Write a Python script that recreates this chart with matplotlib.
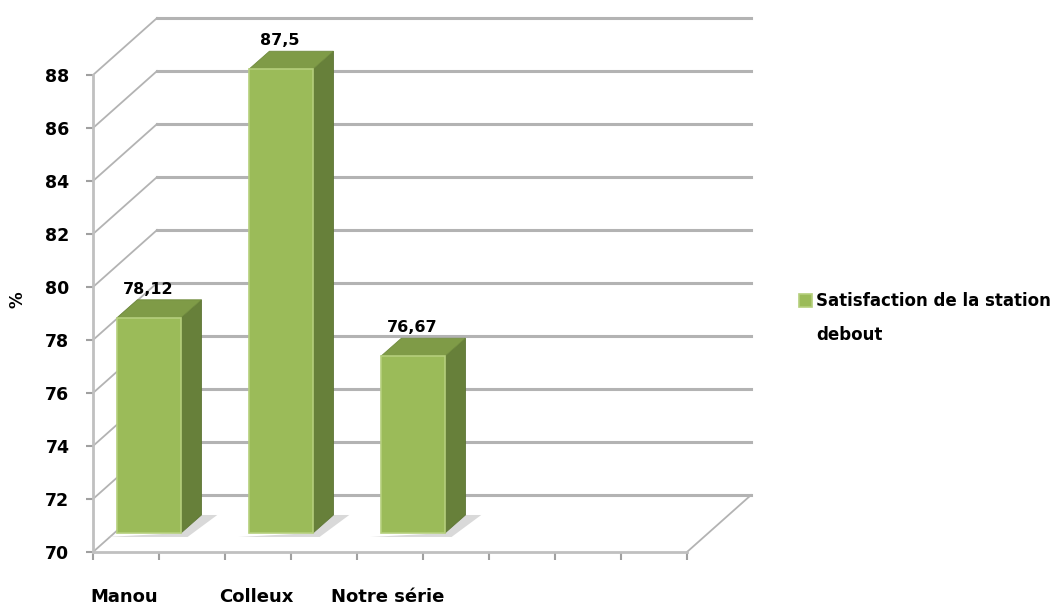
import matplotlib.pyplot as plt
from matplotlib.patches import Polygon, Rectangle
from matplotlib.container import BarContainer
from matplotlib.legend_handler import HandlerPatch, update_from_first_child

categories = ['Manou', 'Colleux', 'Notre série']
values = [78.12, 87.5, 76.67]
value_labels = ['78,12', '87,5', '76,67']
series_name = 'Satisfaction de la station\ndebout'
y_ticks = [70, 72, 74, 76, 78, 80, 82, 84, 86, 88]

front = '#9bbb59'
side = '#67803a'
top = '#7f9b47'
grid = '#b3b3b3'

plt.rcParams['font.family'] = 'DejaVu Sans'
plt.rcParams['font.weight'] = 'bold'

fig = plt.figure(figsize=(10.55, 6.1), dpi=100)
ax = fig.add_axes([93 / 1055, 58 / 610, 594 / 1055, 477 / 610])
x0, x1 = -0.265, 4.235
ymin, ymax = 70, 88
ax.set_xlim(x0, x1)
ax.set_ylim(ymin, ymax)

# depth of the box (back wall offset) and of the bars
dx, dy = 0.485, 2.15
bx, by = 0.159, 0.717
bw = 0.485

# back wall gridlines + left wall diagonals
for v in y_ticks:
    ax.plot([x0 + dx, x1 + dx], [v + dy, v + dy], color=grid, lw=2.2, clip_on=False, zorder=1)
    ax.plot([x0, x0 + dx], [v, v + dy], color=grid, lw=1.3, clip_on=False, zorder=1)
# floor right edge
ax.plot([x1, x1 + dx], [ymin, ymin + dy], color=grid, lw=1.3, clip_on=False, zorder=1)

# bars with fake 3D
for i, v in enumerate(values):
    xl = i + bx - bw / 2
    xr = i + bx + bw / 2
    b = ymin + by
    t = v + by
    ddx, ddy = 0.155, 0.68
    shadow = Polygon([(xl - 0.08, b - 0.15), (xr + 0.05, b - 0.15), (xr + ddx + 0.12, b + ddy),
                      (xr + ddx, b + ddy), (xr, b)], closed=True, color='#d9d9d9', lw=0,
                     clip_on=False, zorder=2)
    ax.add_patch(shadow)
    ax.add_patch(Polygon([(xr, b), (xr + ddx, b + ddy), (xr + ddx, t + ddy), (xr, t)],
                         closed=True, facecolor=side, edgecolor='#5c7433', lw=0.6,
                         clip_on=False, zorder=3))
    ax.add_patch(Polygon([(xl, t), (xr, t), (xr + ddx, t + ddy), (xl + ddx, t + ddy)],
                         closed=True, facecolor=top, edgecolor='#6f8a3d', lw=0.6,
                         clip_on=False, zorder=3))
    ax.text(i + 0.15, t + ddy + 0.12, value_labels[i], ha='center', va='bottom',
            fontsize=11.5, fontweight='bold', zorder=5, clip_on=False)

ax.bar([i + bx for i in range(len(values))], [v - ymin for v in values], bottom=ymin + by,
       width=bw, color=front, edgecolor='#b5cf7c', linewidth=1.2, zorder=4, clip_on=False,
       label=series_name)

for s in ['top', 'right']:
    ax.spines[s].set_visible(False)
for s in ['left', 'bottom']:
    ax.spines[s].set_color('#c0c0c0')
    ax.spines[s].set_linewidth(2)

ax.set_yticks(y_ticks)
ax.tick_params(axis='y', length=5, width=1.5, color='#a0a0a0', labelsize=12.5, pad=12)
ax.set_xticks([i - 0.03 for i in range(len(categories))], labels=categories)
ax.tick_params(axis='x', which='major', length=0, pad=26, labelsize=13)
ax.set_xticks([x0 + 0.5 * k for k in range(10)], minor=True)
ax.tick_params(axis='x', which='minor', length=6, width=1.5, color='#a0a0a0')
for lab in ax.get_xticklabels() + ax.get_yticklabels():
    lab.set_fontweight('bold')

ax.set_ylabel('%', fontsize=12, fontweight='bold')
ax.yaxis.set_label_coords(-0.112, 0.53)


def top_square(legend, orig_handle, xdescent, ydescent, width, height, fontsize):
    # square next to the first line of the label
    return Rectangle((-xdescent, -ydescent + 13.7), width, height)


leg = ax.legend(loc='center left', bbox_to_anchor=(792 / 1055, 1 - 318 / 610),
                bbox_transform=fig.transFigure, frameon=False, fontsize=12,
                handlelength=0.8, handleheight=0.8, handletextpad=0.25, borderaxespad=0,
                handler_map={BarContainer: HandlerPatch(patch_func=top_square,
                                                        update_func=update_from_first_child)})
leg.get_texts()[0].set_linespacing(2.2)

fig.savefig('out.png', dpi=100)
